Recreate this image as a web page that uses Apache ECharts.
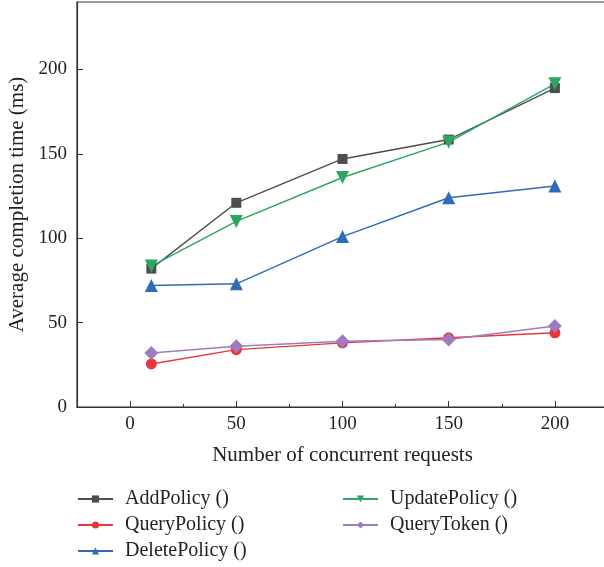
<!DOCTYPE html>
<html><head><meta charset="utf-8">
<script src="https://cdn.jsdelivr.net/npm/echarts@6/dist/echarts.min.js"></script>
<style>html,body{margin:0;padding:0;background:#fff}#c{width:604px;height:567px}</style>
</head><body><div id="c"></div>
<script>
var requests = [10, 50, 100, 150, 200];
var addPolicy = [82, 121, 147, 158.5, 189];
var queryPolicy = [25.5, 34, 38, 41, 44];
var deletePolicy = [72, 73, 101, 124, 131];
var updatePolicy = [83.5, 110, 136, 157, 191.5];
var queryToken = [32, 36, 39, 40, 48];
var xTicks = [0, 50, 100, 150, 200];
var yTicks = [0, 50, 100, 150, 200];

function pairs(v){ return requests.map(function(x,i){ return [x, v[i]]; }); }
var FONT = 'Liberation Serif';
var chart = echarts.init(document.getElementById('c'), null, {renderer:'canvas'});
function mk(name, data, color, symbol, size, rot){
  return {name:name, type:'line', data:pairs(data), symbol:symbol, symbolSize:size, symbolRotate:rot||0,
    lineStyle:{color:color, width:1.4}, itemStyle:{color:color}, z:3, animation:false};
}
var legendText = {fontFamily:FONT, fontSize:20, color:'#222', lineHeight:20, padding:[0,0,0,7]};
var option = {
  animation:false,
  grid:{left:77, top:2, right:-4, bottom:160, show:true, borderColor:'#333', borderWidth:1.2,
    containLabel:false, outerBoundsMode:'none'},
  xAxis:[{
    type:'value', min:-25, max:225,
    name:'Number of concurrent requests', nameLocation:'middle', nameGap:38,
    nameTextStyle:{fontFamily:FONT, fontSize:21, color:'#222'},
    axisLine:{show:true, onZero:false, lineStyle:{color:'#333', width:1.2}},
    axisTick:{show:true, inside:true, length:6, lineStyle:{color:'#333'}, customValues: xTicks},
    axisLabel:{fontFamily:FONT, fontSize:19, color:'#222', margin:8, customValues: xTicks},
    splitLine:{show:false}
  },{
    type:'value', min:-25, max:225, interval:25, position:'bottom',
    axisLine:{show:false, onZero:false}, axisTick:{show:true, inside:true, length:3, lineStyle:{color:'#333'}},
    axisLabel:{show:false}, splitLine:{show:false}
  }],
  yAxis:{
    type:'value', min:0, max:240,
    name:'Average completion time (ms)', nameLocation:'middle', nameGap:48,
    nameTextStyle:{fontFamily:FONT, fontSize:21, color:'#222'},
    axisLine:{show:true, onZero:false, lineStyle:{color:'#333', width:1.2}},
    axisTick:{show:true, inside:true, length:6, lineStyle:{color:'#333'}, customValues: yTicks},
    axisLabel:{fontFamily:FONT, fontSize:19, color:'#222', margin:10, customValues: yTicks},
    splitLine:{show:false}
  },
  legend:[{
    data:['AddPolicy ()','QueryPolicy ()','DeletePolicy ()'],
    orient:'vertical', left:72, top:484, height:90, itemWidth:35, itemHeight:9, itemGap:6,
    textStyle:legendText
  },{
    data:['UpdatePolicy ()','QueryToken ()'],
    orient:'vertical', left:337, top:484, height:90, itemWidth:35, itemHeight:9, itemGap:6,
    textStyle:legendText
  }],
  series:[
    mk('AddPolicy ()', addPolicy, '#4d4d4d', 'rect', 10),
    mk('QueryPolicy ()', queryPolicy, '#e8363b', 'circle', 11),
    mk('DeletePolicy ()', deletePolicy, '#2e6cb5', 'triangle', 13),
    mk('UpdatePolicy ()', updatePolicy, '#2ca660', 'triangle', 13, 180),
    mk('QueryToken ()', queryToken, '#9f7bbf', 'diamond', 14)
  ]
};
chart.setOption(option);
</script></body></html>
